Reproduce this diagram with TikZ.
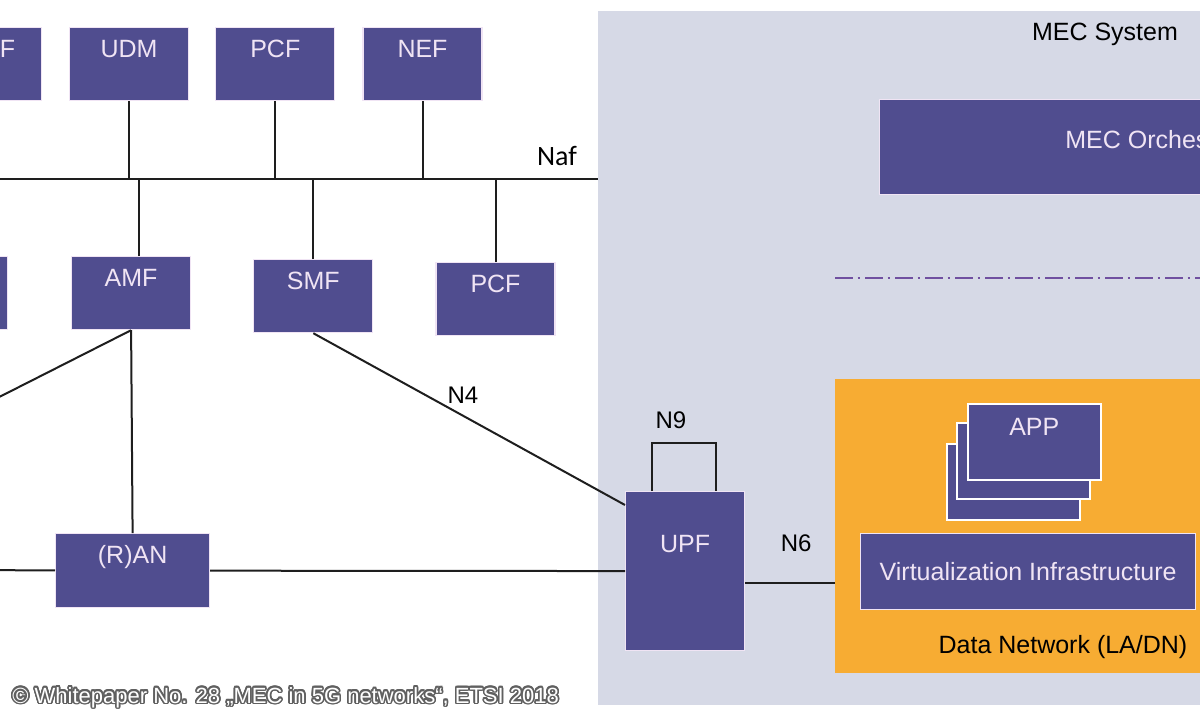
\documentclass[tikz,border=0pt]{standalone}
\usepackage{fontspec}
\setmainfont{Liberation Sans}
\newfontfamily\naffont{Carlito}
\usepackage[copies]{contour}
\contourlength{0.8pt}
\usepackage{tikz}
\usetikzlibrary{positioning}

\definecolor{nfblue}{RGB}{80,77,143}
\definecolor{nfedge}{RGB}{240,228,244}
\definecolor{mecgray}{RGB}{214,217,230}
\definecolor{dnorange}{RGB}{247,172,51}
\definecolor{refline}{RGB}{112,80,160}
\definecolor{wirecol}{RGB}{30,30,30}

\begin{document}
\begin{tikzpicture}[x = 0.5pt, y = -0.5pt,
  nf/.style = {fill = nfblue, draw = nfedge, line width = 0.6pt, shape = rectangle, text = nfedge,
    font = \fontsize{12.5}{15}\selectfont, inner sep = 0pt, minimum width = 59.5pt,
    text height = 15pt, text depth = 21.5pt},
  area/.style = {shape = rectangle, anchor = north west, inner sep = 0pt},
  wire/.style = {draw = wirecol, line width = 1pt},
  lbl/.style = {font = \fontsize{12}{14}\selectfont, inner sep = 0pt, text = black}]
\useasboundingbox (0,0) rectangle (1200,720);
\clip (0,0) rectangle (1200,720);

% MEC system and data network
\node[area, fill = mecgray, minimum width = 320pt, minimum height = 347pt] (20) at (598,11) {};
\node[lbl, font = \fontsize{12.5}{15}\selectfont, anchor = base] (21) at (1105,40) {MEC System};
\node[area, fill = dnorange, minimum width = 195pt, minimum height = 147pt] (22) at (835,379) {};
\node[lbl, font = \fontsize{12.5}{15}\selectfont, anchor = base] (23) at (1063,653) {Data Network (LA/DN)};

\node[nf, anchor = north west, minimum width = 286.5pt, text height = 24.5pt, text depth = 23pt] (24) at (879,99) {MEC Orchestrator};
\coordinate (25) at (835,278);
\coordinate (26) at (1215,278);
\draw[refline, line width = 1.3pt, dash pattern = on 9pt off 2.25pt on 1pt off 2.75pt] (25) -- (26);

\begin{scope}[nodes = {nf, draw = white, line width = 0.8pt, anchor = north west, minimum width = 66.5pt, text height = 16pt, text depth = 22pt}]
\node (27) at (946,443) {};
\node (28) at (956,422) {};
\node (29) at (967,403) {APP};
\end{scope}
\node[nf, anchor = north west, minimum width = 167.5pt, text height = 23.5pt, text depth = 14.5pt] (30) at (860,533) {Virtualization Infrastructure};

% 5G core functions
\node[nf, anchor = north west] (2) at (69,27) {UDM};
\node[nf, left = 13.5pt of 2] (1) {NSSF};
\node[nf, right = 13pt of 2] (3) {PCF};
\node[nf, right = 13.5pt of 3] (4) {NEF};

\node[nf, anchor = north west] (6) at (71,256) {AMF};
\node[nf, left = 31.5pt of 6] (5) {};
\node[nf, right = 31pt of 6, yshift = -1.5pt] (7) {SMF};
\node[nf, right = 31pt of 7, yshift = -1.5pt] (8) {PCF};

\node[nf, anchor = north west, minimum width = 77pt, text height = 15pt, text depth = 22pt] (9) at (55,533) {(R)AN};
\node[nf, anchor = north west, text height = 30.5pt, text depth = 49pt] (10) at (625,491) {UPF};

% service bus
\coordinate (11) at (-60,179);
\coordinate (12) at (598,179);
\draw[wire] (11) -- (12) node[lbl, font = \naffont\fontsize{14}{16}\selectfont, anchor = base east, xshift = -10pt, yshift = 7pt] {Naf};
\foreach \n in {2,3,4,7,8}
  \draw[wire] (\n) -- (\n |- 11);
\draw[wire] ([xshift = 4pt]6.north) -- ([xshift = 4pt]6.north |- 11);

% user plane
\coordinate (13) at (-60,427);
\coordinate (14) at (-60,570);
\draw[wire] (6.south) -- (13);
\draw[wire] (6.south) -- (9.north);
\draw[wire] (9) -- (14);
\draw[wire] (9) -- (10);
\draw[wire] (7.south) -- ([yshift = -7pt]10.north west) node[lbl, pos = 0.48, anchor = base, yshift = 6.3pt] {N4};
\draw[wire] ([xshift = -16.75pt]10.north) -- ++(0,24pt) node[lbl, anchor = base west, xshift = 1.5pt, yshift = 7.5pt] {N9} -| ([xshift = 15.25pt]10.north);
\draw[wire] ([yshift = -5.75pt]10.east) -- ([yshift = -5.75pt]10.east -| 22.west) node[lbl, midway, anchor = base, xshift = 3pt, yshift = 15.5pt] {N6};

\node[anchor = base west, inner sep = 0pt, font = \fontsize{11}{13}\selectfont] (31) at (12,703)
  {\contour{gray!75!black}{\textcolor{white}{© Whitepaper No. 28 „MEC in 5G networks“, ETSI 2018}}};
\end{tikzpicture}
\end{document}
